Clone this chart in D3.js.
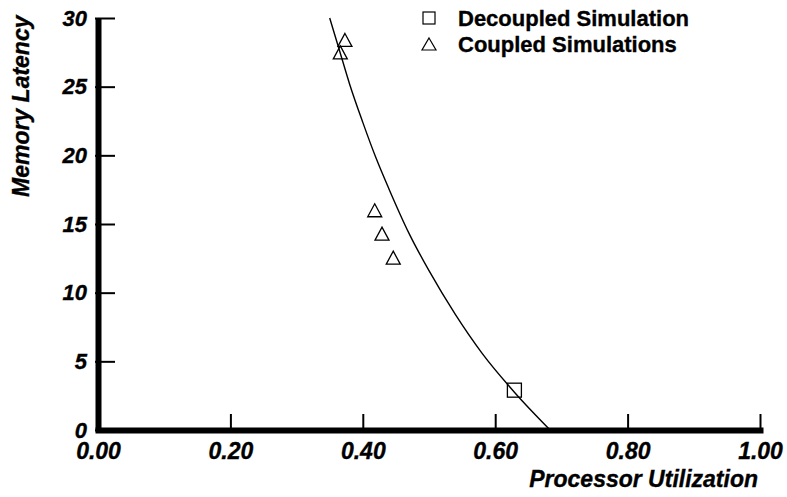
<!DOCTYPE html>
<html>
<head>
<meta charset="utf-8">
<script src="https://cdn.jsdelivr.net/npm/d3@7"></script>
<style>
  body { margin: 0; background: #fff; }
  text { font-family: "Liberation Sans", Arial, sans-serif; font-weight: bold;
         fill: #000; stroke: #000; stroke-width: 0.35px; }
</style>
</head>
<body>
<div class="stage"></div>
<script>
// chart size
var width = 787;
var height = 497;

// data
var decoupled = [[0.629, 2.9]];
var coupled = [[0.366, 27.5], [0.373, 28.4], [0.418, 16.0], [0.429, 14.3], [0.446, 12.55]];
// fitted curve, points
var curvePts = [[0.350, 30.0], [0.365, 27.6], [0.380, 25.2], [0.400, 22.4], [0.420, 19.8],
                [0.440, 17.5], [0.470, 14.3], [0.500, 11.6], [0.540, 8.4], [0.580, 5.6],
                [0.630, 2.7], [0.683, 0]];
var xTicks = [0, 0.2, 0.4, 0.6, 0.8, 1.0];
var yTicks = [0, 5, 10, 15, 20, 25, 30];
var legendLabels = ['Decoupled Simulation', 'Coupled Simulations'];

var svg = d3.select('.stage')
            .append('svg')
            .attr('width', width)
            .attr('height', height);

var x = d3.scaleLinear().domain([0, 1]).range([98, 760]);
var y = d3.scaleLinear().domain([0, 30]).range([430, 18]);

// triangle with its box centred on the point
var tri = function(w, h) {
  return 'M0,' + (-h / 2) + 'L' + (w / 2) + ',' + (h / 2) + 'L' + (-w / 2) + ',' + (h / 2) + 'Z';
};

// X AXIS
var gx = svg.append('g')
  .attr('transform', 'translate(0,' + y(0) + ')')
  .call(d3.axisBottom(x).tickValues(xTicks).tickFormat(d3.format('.2f'))
          .tickSizeInner(-16).tickSizeOuter(0).tickPadding(0));
gx.select('.domain').attr('stroke', '#000').attr('stroke-width', 6).attr('stroke-linecap', 'square');
gx.selectAll('.tick line').attr('stroke', '#000').attr('stroke-width', 2);
gx.selectAll('.tick text')
  .attr('y', 28.5)
  .attr('dy', 0)
  .attr('fill', '#000')
  .style('font-size', '23px')
  .style('font-style', 'italic');

// Y AXIS
var gy = svg.append('g')
  .attr('transform', 'translate(' + x(0) + ',0)')
  .call(d3.axisLeft(y).tickValues(yTicks).tickFormat(d3.format('d'))
          .tickSizeInner(-17).tickSizeOuter(0).tickPadding(11));
gy.select('.domain').attr('stroke', '#000').attr('stroke-width', 6);
gy.selectAll('.tick line').attr('stroke', '#000').attr('stroke-width', 2).attr('x1', -3);
gy.selectAll('.tick text')
  .attr('dy', '0.33em')
  .attr('fill', '#000')
  .style('font-size', '22px')
  .style('font-style', 'italic');

// axis titles
svg.append('text')
  .attr('x', 758)
  .attr('y', 487)
  .attr('text-anchor', 'end')
  .style('font-size', '23px')
  .style('font-style', 'italic')
  .text('Processor Utilization');

svg.append('text')
  .attr('transform', 'translate(29,197) rotate(-90)')
  .attr('text-anchor', 'start')
  .style('font-size', '23px')
  .style('font-style', 'italic')
  .text('Memory Latency');

// CURVE
var line = d3.line()
  .x(function(d) { return x(d[0]); })
  .y(function(d) { return y(d[1]); })
  .curve(d3.curveMonotoneX);

svg.append('path')
  .datum(curvePts)
  .attr('d', line)
  .attr('fill', 'none')
  .attr('stroke', '#000')
  .attr('stroke-width', 1.4);

// MARKERS
svg.selectAll('.coupled')
  .data(coupled)
  .enter()
  .append('path')
  .attr('class', 'coupled')
  .attr('transform', function(d) { return 'translate(' + x(d[0]) + ',' + y(d[1]) + ')'; })
  .attr('d', tri(14, 13))
  .attr('fill', 'none')
  .attr('stroke', '#000')
  .attr('stroke-width', 1.3);

svg.selectAll('.decoupled')
  .data(decoupled)
  .enter()
  .append('rect')
  .attr('class', 'decoupled')
  .attr('x', function(d) { return x(d[0]) - 7; })
  .attr('y', function(d) { return y(d[1]) - 7; })
  .attr('width', 14)
  .attr('height', 14)
  .attr('fill', 'none')
  .attr('stroke', '#000')
  .attr('stroke-width', 1.3);

// LEGEND
var legend = svg.selectAll('.legend')
  .data(legendLabels)
  .enter()
  .append('g')
  .attr('class', 'legend')
  .attr('transform', function(d, i) { return 'translate(429,' + (18 + i * 26) + ')'; });

legend.filter(function(d, i) { return i === 0; })
  .append('rect')
  .attr('x', -6).attr('y', -6)
  .attr('width', 12).attr('height', 12)
  .attr('fill', 'none')
  .attr('stroke', '#000')
  .attr('stroke-width', 1.2);

legend.filter(function(d, i) { return i === 1; })
  .append('path')
  .attr('d', tri(14, 12))
  .attr('fill', 'none')
  .attr('stroke', '#000')
  .attr('stroke-width', 1.2);

legend.append('text')
  .attr('x', 29)
  .attr('y', 7.5)
  .style('font-size', '22px')
  .text(function(d) { return d; });
</script>
</body>
</html>
